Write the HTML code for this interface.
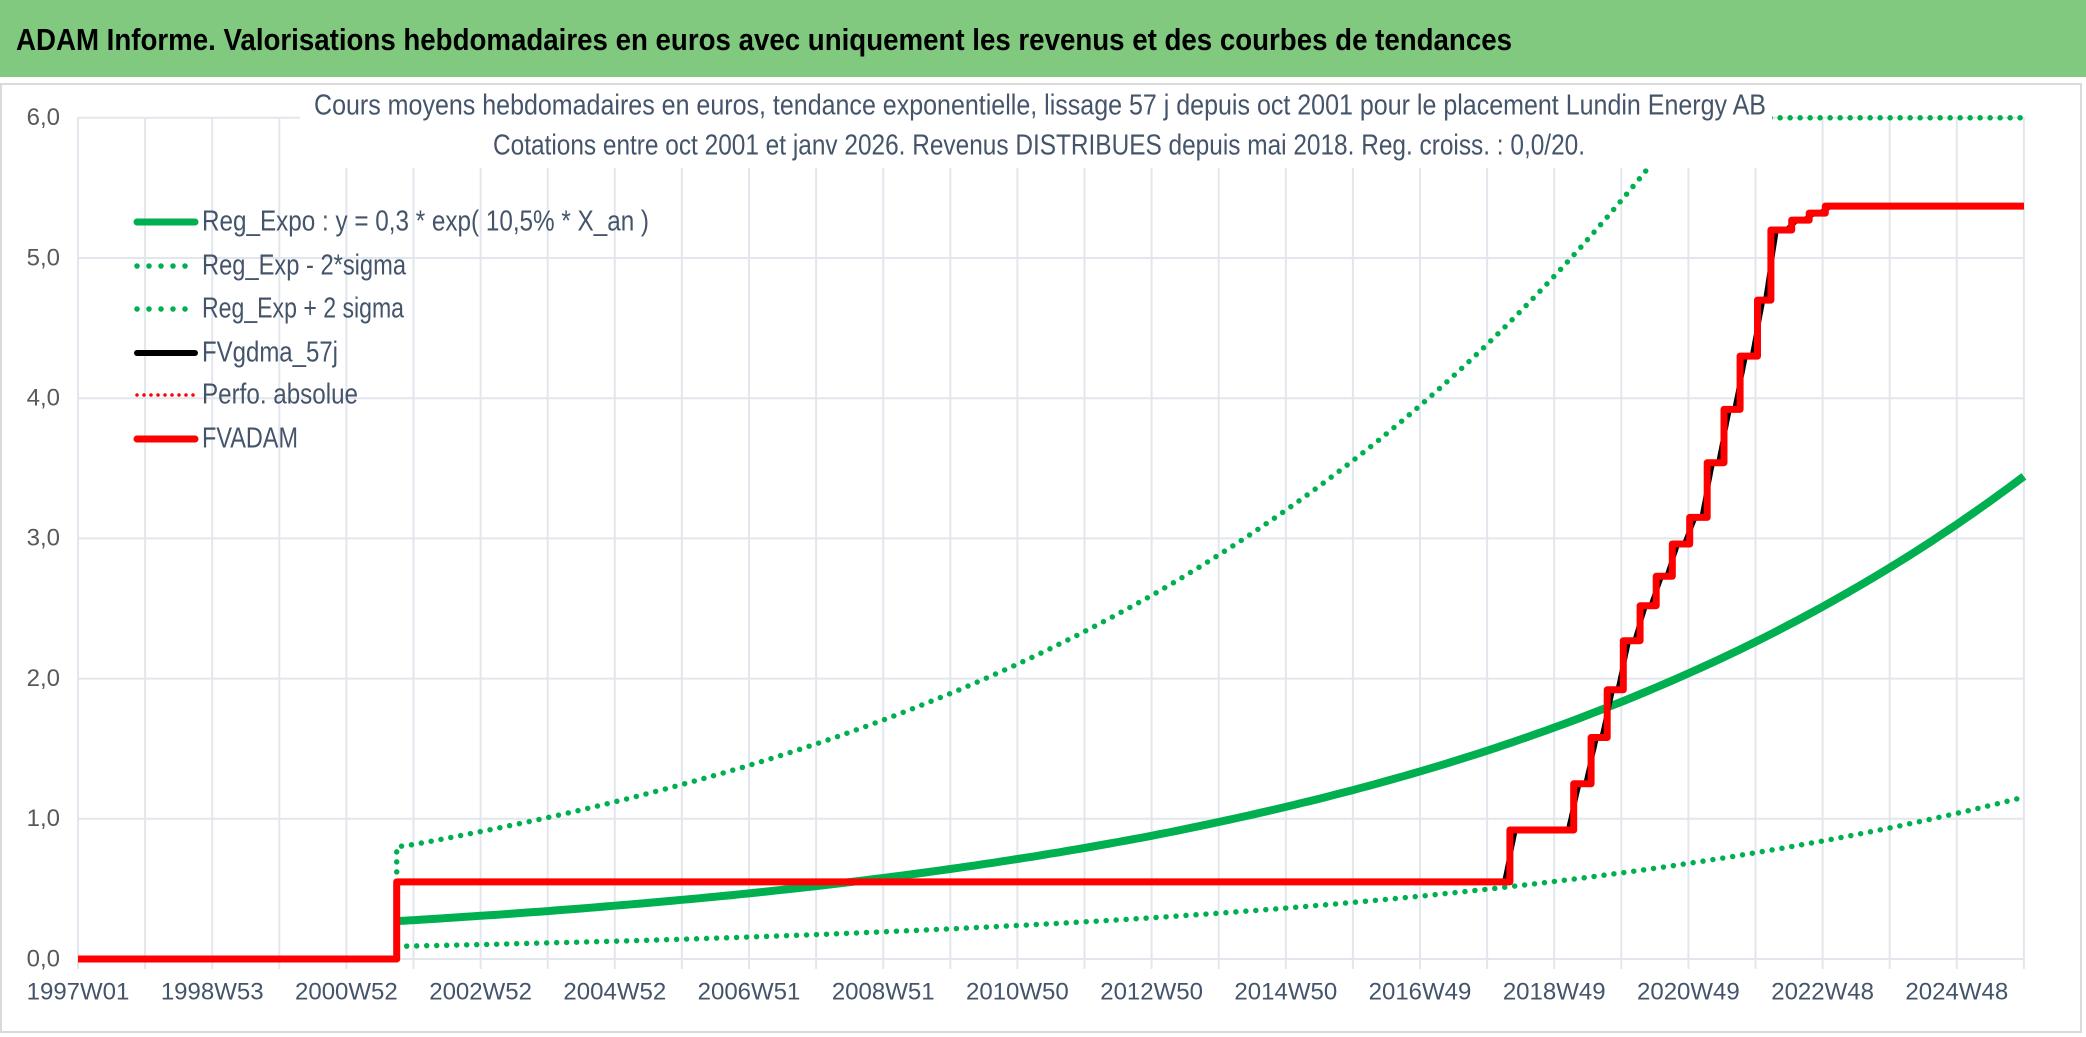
<!DOCTYPE html>
<html><head><meta charset="utf-8"><style>
html,body{margin:0;padding:0;background:#fff;}
svg{display:block;font-family:"Liberation Sans Narrow","Liberation Sans",sans-serif;}
</style></head><body>
<svg id="chart" width="2086" height="1037" viewBox="0 0 2086 1037" xmlns="http://www.w3.org/2000/svg">
<rect x="0" y="0" width="2086" height="1037" fill="#fff"/>
<rect x="0" y="0" width="2086" height="77" fill="#80c97f"/>
<text x="16" y="42" font-size="31" font-weight="bold" fill="#000" textLength="1496" lengthAdjust="spacingAndGlyphs" dominant-baseline="middle">ADAM Informe. Valorisations hebdomadaires en euros avec uniquement les revenus et des courbes de tendances</text>
<rect x="1" y="84" width="2080" height="948" fill="none" stroke="#d9d9d9" stroke-width="2"/>
<g id="grid"></g>
<g id="yticks"></g>
<g id="xticks"></g>
<g id="series"></g>
<rect x="300" y="86" width="1472" height="82" fill="#fff"/>
<text x="1040" y="107" font-size="29" fill="#44546a" text-anchor="middle" textLength="1452" lengthAdjust="spacingAndGlyphs" dominant-baseline="middle">Cours moyens hebdomadaires en euros, tendance exponentielle, lissage 57 j depuis oct 2001 pour le placement Lundin Energy AB</text>
<text x="1039" y="147" font-size="29" fill="#44546a" text-anchor="middle" textLength="1092" lengthAdjust="spacingAndGlyphs" dominant-baseline="middle">Cotations entre oct 2001 et janv 2026. Revenus DISTRIBUES depuis mai 2018. Reg. croiss. : 0,0/20.</text>
<g id="legend">
 <g>
  <line x1="137" y1="222" x2="195" y2="222" stroke="#00b050" stroke-width="7" stroke-linecap="round"/>
  <text x="202" y="223" font-size="29" fill="#44546a" dominant-baseline="middle" textLength="447" lengthAdjust="spacingAndGlyphs">Reg_Expo : y = 0,3 * exp( 10,5% *  X_an )</text>
 </g>
 <g>
  <line x1="137" y1="266" x2="197" y2="266" stroke="#00b050" stroke-width="5.5" stroke-linecap="round" stroke-dasharray="0 12"/>
  <text x="202" y="267" font-size="29" fill="#44546a" dominant-baseline="middle" textLength="204" lengthAdjust="spacingAndGlyphs">Reg_Exp - 2*sigma</text>
 </g>
 <g>
  <line x1="137" y1="309" x2="197" y2="309" stroke="#00b050" stroke-width="5.5" stroke-linecap="round" stroke-dasharray="0 12"/>
  <text x="202" y="310" font-size="29" fill="#44546a" dominant-baseline="middle" textLength="202" lengthAdjust="spacingAndGlyphs">Reg_Exp + 2 sigma</text>
 </g>
 <g>
  <line x1="137" y1="353" x2="195" y2="353" stroke="#000" stroke-width="6" stroke-linecap="round"/>
  <text x="202" y="354" font-size="29" fill="#44546a" dominant-baseline="middle" textLength="136" lengthAdjust="spacingAndGlyphs">FVgdma_57j</text>
 </g>
 <g>
  <line x1="137" y1="395" x2="197" y2="395" stroke="#ff0000" stroke-width="3.5" stroke-linecap="round" stroke-dasharray="0 7"/>
  <text x="202" y="396" font-size="29" fill="#44546a" dominant-baseline="middle" textLength="156" lengthAdjust="spacingAndGlyphs">Perfo. absolue</text>
 </g>
 <g>
  <line x1="137" y1="439" x2="195" y2="439" stroke="#ff0000" stroke-width="7" stroke-linecap="round"/>
  <text x="202" y="440" font-size="29" fill="#44546a" dominant-baseline="middle" textLength="96" lengthAdjust="spacingAndGlyphs">FVADAM</text>
 </g>
</g>
</svg>
<script>
// ---- data ----
const yTickLabels = ["0,0","1,0","2,0","3,0","4,0","5,0","6,0"];
const yTickValues = [0,1,2,3,4,5,6];
const xTickLabels = ["1997W01","1998W53","2000W52","2002W52","2004W52","2006W51","2008W51","2010W50","2012W50","2014W50","2016W49","2018W49","2020W49","2022W48","2024W48"];
const xTickYears = [1997,1999,2001,2003,2005,2007,2009,2011,2013,2015,2017,2019,2021,2023,2025];
const regYears = [2001.75,2002,2003,2004,2005,2006,2007,2008,2009,2010,2011,2012,2013,2014,2015,2016,2017,2018,2019,2020,2021,2022,2023,2024,2025,2026];
const regValues = [0.27,0.277,0.308,0.342,0.380,0.422,0.468,0.520,0.578,0.642,0.713,0.792,0.879,0.977,1.085,1.205,1.338,1.486,1.651,1.834,2.037,2.262,2.513,2.791,3.100,3.443];
const lowerValues = [0.09,0.093,0.103,0.115,0.127,0.141,0.157,0.174,0.194,0.215,0.239,0.265,0.294,0.327,0.363,0.404,0.448,0.498,0.553,0.614,0.682,0.758,0.842,0.935,1.039,1.155];
const upperValues = [0.80,0.817,0.909,1.009,1.121,1.245,1.381,1.534,1.705,1.894,2.103,2.336,2.593,2.882,3.201,3.555,3.947,4.384,4.870,5.410,6.009,6.673,7.413,8.233,9.145,10.157];
const stepYears = [1997.0,2001.75,2018.34,2019.29,2019.55,2019.79,2020.03,2020.28,2020.52,2020.76,2021.02,2021.28,2021.53,2021.77,2022.03,2022.23,2022.54,2022.80,2023.04];
const stepValues = [0,0.55,0.92,1.25,1.58,1.92,2.27,2.52,2.73,2.96,3.15,3.54,3.92,4.30,4.70,5.20,5.27,5.32,5.37];
const endYear = 2026.0;

// ---- axes ----
const X0=78, PXY=67.1, Y0=959, PXV=140.2;
const xs = t => X0 + (t-1997)*PXY;
const ys = v => Y0 - Math.min(v,6)*PXV;
const NS='http://www.w3.org/2000/svg';
function mk(tag, parent){const e=document.createElementNS(NS,tag);parent.appendChild(e);return e;}

const grid=document.getElementById('grid');
for(let i=0;i<=29;i++){
  const l=mk('line',grid);
  
  
  const x=xs(1997+i);
  l.setAttribute('x1',x);l.setAttribute('x2',x);l.setAttribute('y1',117);l.setAttribute('y2',Y0+10);
  l.setAttribute('stroke','#e3e6ec');l.setAttribute('stroke-width','2');
}
const yt=document.getElementById('yticks');
yTickValues.forEach((v,i)=>{
  const l=mk('line',grid);
  
  
  l.setAttribute('x1',X0);l.setAttribute('x2',xs(endYear));l.setAttribute('y1',ys(v));l.setAttribute('y2',ys(v));
  l.setAttribute('stroke','#e3e6ec');l.setAttribute('stroke-width','2');
  const t=mk('text',yt);
  
  
  t.setAttribute('x',60);t.setAttribute('y',ys(v)+1);t.setAttribute('text-anchor','end');
  t.setAttribute('dominant-baseline','middle');t.setAttribute('font-size','24');t.setAttribute('fill','#595959');
  t.textContent=yTickLabels[i];
});
const xt=document.getElementById('xticks');
xTickYears.forEach((yr,i)=>{
  const t=mk('text',xt);
  
  
  t.setAttribute('x',xs(yr));t.setAttribute('y',993);t.setAttribute('text-anchor','middle');
  t.setAttribute('dominant-baseline','middle');t.setAttribute('font-size','24');t.setAttribute('fill','#44546a');
  t.textContent=xTickLabels[i];
});

// ---- series ----
const ser=document.getElementById('series');
function path(d,color,w,dash,name){
  const p=mk('path',ser);
  
  
  p.setAttribute('d',d);p.setAttribute('fill','none');p.setAttribute('stroke',color);
  p.setAttribute('stroke-width',w);p.setAttribute('stroke-linejoin','round');
  if(dash){p.setAttribute('stroke-dasharray',dash);p.setAttribute('stroke-linecap','round');}
}
function smoothPath(years, vals){
  let d='';
  for(let i=0;i<years.length-1;i++){
    const n=8;
    for(let k=0;k<(i===years.length-2?n+1:n);k++){
      const f=k/n;
      const t=years[i]+(years[i+1]-years[i])*f;
      const v=vals[i]*Math.pow(vals[i+1]/vals[i],f);
      d+=(d?'L':'M')+xs(t).toFixed(1)+','+ys(v).toFixed(1);
    }
  }
  return d;
}
path(smoothPath(regYears,lowerValues),'#00b050',5.5,'0 10','series-reg-exp-minus-2sigma');
path('M'+xs(regYears[0])+','+ys(stepValues[1])+smoothPath(regYears,upperValues).replace(/^M/,'L'),'#00b050',5.5,'0 10','series-reg-exp-plus-2sigma');
path(smoothPath(regYears,regValues),'#00b050',8,null,'series-reg-expo');

function stepAt(t){let v=stepValues[0];for(let i=0;i<stepYears.length;i++){if(t>=stepYears[i])v=stepValues[i];}return v;}
let dB='';
const half=0.078;
for(let t=1997;t<=endYear+1e-9;t+=0.01){
  let s=0,n=0;
  for(let u=t-half;u<=t+half;u+=0.005){s+=stepAt(Math.min(u,endYear));n++;}
  let v=s/n;
  if(t<stepYears[2]-0.2) v=stepAt(t);
  dB+=(dB?'L':'M')+xs(t).toFixed(1)+','+ys(v).toFixed(1);
}
let dR='M'+xs(stepYears[0])+','+ys(stepValues[0]);
for(let i=1;i<stepYears.length;i++){
  dR+='L'+xs(stepYears[i]).toFixed(1)+','+ys(stepValues[i-1]).toFixed(1);
  dR+='L'+xs(stepYears[i]).toFixed(1)+','+ys(stepValues[i]).toFixed(1);
}
dR+='L'+xs(endYear).toFixed(1)+','+ys(stepValues[stepValues.length-1]).toFixed(1);
path(dB,'#000',5,null,'series-fvgdma-57j');
path(dR,'#ff0000',7,null,'series-fvadam');
</script>
</body></html>
